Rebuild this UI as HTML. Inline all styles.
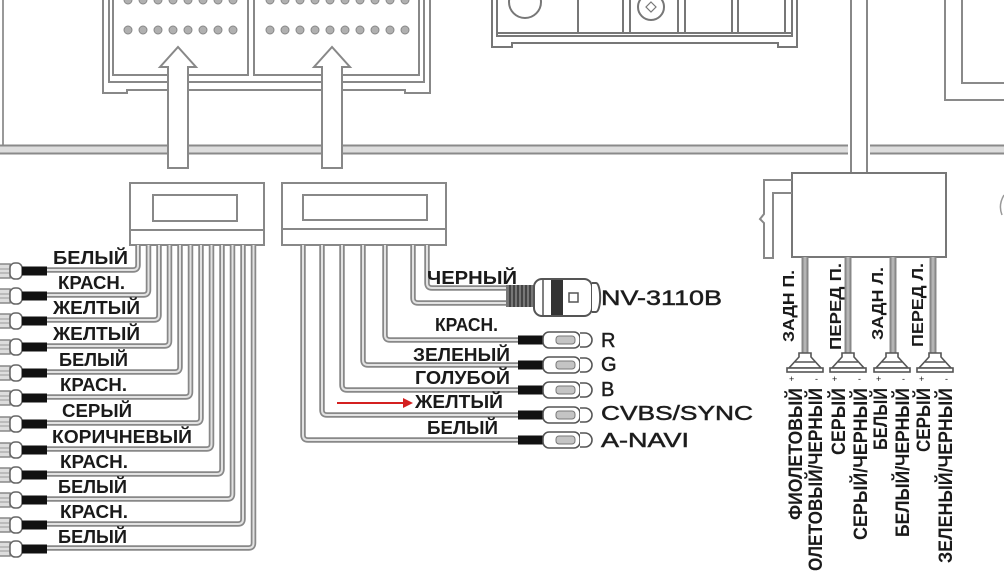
<!DOCTYPE html>
<html><head><meta charset="utf-8"><style>
html,body{margin:0;padding:0;background:#fff;width:1004px;height:573px;overflow:hidden;}
svg{display:block;overflow:hidden;}
text{font-family:"Liberation Sans","DejaVu Sans",sans-serif;fill:#1a1a1a;}
.b text{font-weight:bold;}
</style></head><body>
<svg width="1004" height="573" viewBox="0 0 1004 573" xmlns="http://www.w3.org/2000/svg">
<defs>
<clipPath id="cp"><rect x="0" y="0" width="1004" height="573"/></clipPath>
<g id="lw" fill="none">
<path d="M47,270 H133 Q138,270 138,265 V245"/>
<path d="M47,295 H143.5 Q148.5,295 148.5,290 V245"/>
<path d="M47,320 H154 Q159,320 159,315 V245"/>
<path d="M47,346 H164.5 Q169.5,346 169.5,341 V245"/>
<path d="M47,372 H175 Q180,372 180,367 V245"/>
<path d="M47,397 H185.5 Q190.5,397 190.5,392 V245"/>
<path d="M47,423 H196 Q201,423 201,418 V245"/>
<path d="M47,449 H206.5 Q211.5,449 211.5,444 V245"/>
<path d="M47,474 H217 Q222,474 222,469 V245"/>
<path d="M47,499 H227.5 Q232.5,499 232.5,494 V245"/>
<path d="M47,524 H238 Q243,524 243,519 V245"/>
<path d="M47,548 H248.5 Q253.5,548 253.5,543 V245"/>
<path d="M518,440 H308 Q303,440 303,435 V245"/>
<path d="M518,415 H327 Q322,415 322,410 V245"/>
<path d="M518,390 H347 Q342,390 342,385 V245"/>
<path d="M518,365 H368 Q363,365 363,360 V245"/>
<path d="M518,340 H390 Q385,340 385,335 V245"/>
<path d="M507,303 H418 Q413,303 413,298 V245"/>
<path d="M507,288 H432 Q427,288 427,283 V245"/>
</g>
<g id="sw" fill="none">
<path d="M805,257 V353"/><path d="M848,257 V353"/><path d="M893,257 V353"/><path d="M933,257 V353"/>
</g>
<g id="lt">
<rect x="-4" y="-7" width="14" height="14" fill="#ddd" stroke="#888" stroke-width="1.5"/>
<line x1="-4" y1="-2" x2="10" y2="-2" stroke="#999" stroke-width="1"/>
<line x1="-4" y1="2" x2="10" y2="2" stroke="#999" stroke-width="1"/>
<rect x="10" y="-8" width="12" height="16" rx="5" fill="#fff" stroke="#666" stroke-width="1.5"/>
<rect x="22" y="-4.5" width="25" height="9" fill="#111"/>
</g>
<g id="rca">
<rect x="0" y="-4.5" width="25" height="9" fill="#111"/>
<rect x="25" y="-8" width="37" height="16" rx="6" fill="#fff" stroke="#555" stroke-width="1.6"/>
<rect x="38" y="-4" width="19" height="8" rx="3" fill="#c4c4c4" stroke="#777" stroke-width="1"/>
<path d="M62,-7 H67 A7,7 0 0 1 67,7 H62" fill="#fff" stroke="#555" stroke-width="1.6"/>
</g>
<g id="spk" fill="#fff" stroke="#555" stroke-width="1.6">
<path d="M-6,353 H6 V357 L16,368 H-16 L-6,357 Z"/>
<line x1="-10" y1="362" x2="10" y2="362"/>
<rect x="-18" y="368" width="36" height="4"/>
</g>
</defs>
<g clip-path="url(#cp)">
<!-- frame lines -->
<line x1="3" y1="0" x2="3" y2="152" stroke="#999" stroke-width="2"/>
<rect x="0" y="145" width="848" height="9" fill="#ddd"/>
<rect x="870" y="145" width="134" height="9" fill="#ddd"/>
<path d="M0,145.5 H848 M0,153.5 H848 M870,145.5 H1004 M870,153.5 H1004" stroke="#8a8a8a" stroke-width="2" fill="none"/>
<path d="M945,0 V100 H1004 M962,0 V83 H1004" stroke="#8a8a8a" stroke-width="2" fill="none"/>

<!-- top housing -->
<g fill="none" stroke="#888" stroke-width="2">
<path d="M103,0 V93 H127 V90 H405 V93 H430 V0"/>
<path d="M109,0 V82 H424 V0"/>
<rect x="113" y="-5" width="135" height="80"/>
<rect x="254" y="-5" width="165" height="80"/>
</g>
<g fill="#b0b0b0" stroke="#888" stroke-width="1">
<circle cx="128" cy="30" r="4"/><circle cx="143" cy="30" r="4"/><circle cx="158" cy="30" r="4"/><circle cx="173" cy="30" r="4"/><circle cx="188" cy="30" r="4"/><circle cx="203" cy="30" r="4"/><circle cx="218" cy="30" r="4"/><circle cx="233" cy="30" r="4"/>
<circle cx="128" cy="0" r="4"/><circle cx="143" cy="0" r="4"/><circle cx="158" cy="0" r="4"/><circle cx="173" cy="0" r="4"/><circle cx="188" cy="0" r="4"/><circle cx="203" cy="0" r="4"/><circle cx="218" cy="0" r="4"/><circle cx="233" cy="0" r="4"/>
<circle cx="270" cy="30" r="4"/><circle cx="285" cy="30" r="4"/><circle cx="300" cy="30" r="4"/><circle cx="315" cy="30" r="4"/><circle cx="330" cy="30" r="4"/><circle cx="345" cy="30" r="4"/><circle cx="360" cy="30" r="4"/><circle cx="375" cy="30" r="4"/><circle cx="390" cy="30" r="4"/><circle cx="405" cy="30" r="4"/>
<circle cx="270" cy="0" r="4"/><circle cx="285" cy="0" r="4"/><circle cx="300" cy="0" r="4"/><circle cx="315" cy="0" r="4"/><circle cx="330" cy="0" r="4"/><circle cx="345" cy="0" r="4"/><circle cx="360" cy="0" r="4"/><circle cx="375" cy="0" r="4"/><circle cx="390" cy="0" r="4"/><circle cx="405" cy="0" r="4"/>
</g>
<!-- arrows -->
<g fill="#fff" stroke="#888" stroke-width="2">
<path d="M168,168 V67 H160 L178,47 L196,67 H188 V168 Z"/>
<path d="M322,168 V67 H314 L332,47 L350,67 H342 V168 Z"/>
</g>

<!-- top middle device -->
<g fill="none" stroke="#777" stroke-width="2">
<path d="M492,0 V47 H512 V43 H778 V47 H797 V0"/>
<path d="M497,0 V36 H792 V0"/>
<line x1="497" y1="33" x2="792" y2="33"/>
<path d="M578,0 V33 M623,0 V33 M630,0 V33 M678,0 V33 M685,0 V33 M732,0 V33 M738,0 V33 M785,0 V33"/>
<circle cx="525" cy="2" r="16"/>
<circle cx="651" cy="7" r="13"/>
<path d="M651,2 L656,7 L651,12 L646,7 Z" stroke-width="1.2"/>
</g>

<!-- vertical cable -->
<rect x="851" y="0" width="16" height="174" fill="#fff"/>
<path d="M851,0 V174 M867,0 V174" stroke="#888" stroke-width="2"/>

<!-- right box -->
<rect x="792" y="173" width="154" height="84" fill="#fff" stroke="#777" stroke-width="2"/>
<path d="M792,180 H764 V214 L760,219 L764,223 V258 H773 V193 H792" fill="none" stroke="#888" stroke-width="2"/>
<path d="M1004,195 Q998,205 1002,215" fill="none" stroke="#999" stroke-width="1.5"/>

<!-- lower connector boxes -->
<g fill="#fff" stroke="#888" stroke-width="2">
<rect x="130" y="183" width="134" height="62"/>
<rect x="153" y="195" width="84" height="26"/>
<rect x="282" y="183" width="164" height="62"/>
<rect x="303" y="195" width="124" height="25"/>
</g>
<path d="M130,230 H264 M282,229 H446" stroke="#888" stroke-width="2"/>

<!-- wires -->
<use href="#lw" stroke="#888" stroke-width="5.5"/>
<use href="#lw" stroke="#e2e2e2" stroke-width="2"/>
<use href="#sw" stroke="#888" stroke-width="7"/>
<use href="#sw" stroke="#b5b5b5" stroke-width="3"/>

<!-- left terminals -->
<use href="#lt" x="0" y="271"/>
<use href="#lt" x="0" y="296"/>
<use href="#lt" x="0" y="321"/>
<use href="#lt" x="0" y="347"/>
<use href="#lt" x="0" y="373"/>
<use href="#lt" x="0" y="398"/>
<use href="#lt" x="0" y="424"/>
<use href="#lt" x="0" y="450"/>
<use href="#lt" x="0" y="475"/>
<use href="#lt" x="0" y="500"/>
<use href="#lt" x="0" y="525"/>
<use href="#lt" x="0" y="549"/>

<!-- RCA plugs -->
<use href="#rca" x="518" y="340"/>
<use href="#rca" x="518" y="365"/>
<use href="#rca" x="518" y="390"/>
<use href="#rca" x="518" y="415"/>
<use href="#rca" x="518" y="440"/>

<!-- NV connector -->
<rect x="506" y="285" width="30" height="22" fill="#777"/>
<path d="M510,285 V307 M514,285 V307 M518,285 V307 M522,285 V307 M526,285 V307 M530,285 V307" stroke="#333" stroke-width="1.5"/>
<rect x="534" y="279" width="58" height="37" rx="8" fill="#fff" stroke="#555" stroke-width="2"/>
<line x1="543" y1="280" x2="543" y2="315" stroke="#555" stroke-width="1.5"/>
<rect x="551" y="280" width="12" height="35" fill="#333"/>
<rect x="569" y="293" width="9" height="9" fill="#fff" stroke="#555" stroke-width="1.5"/>
<path d="M592,283 H596 A4,14 0 0 1 596,312 H592" fill="#fff" stroke="#555" stroke-width="2"/>

<!-- speakers -->
<use href="#spk" x="805" y="0"/>
<use href="#spk" x="848" y="0"/>
<use href="#spk" x="892" y="0"/>
<use href="#spk" x="935" y="0"/>
<g font-size="9" style="fill:#555">
<text x="789" y="382">+</text><text x="815" y="382">-</text>
<text x="832" y="382">+</text><text x="858" y="382">-</text>
<text x="876" y="382">+</text><text x="902" y="382">-</text>
<text x="919" y="382">+</text><text x="945" y="382">-</text>
</g>

<!-- red arrow -->
<line x1="337" y1="403" x2="406" y2="403" stroke="#d42020" stroke-width="2"/>
<path d="M403,398 L413,403 L403,408 Z" fill="#d42020"/>

<!-- left labels -->
<g class="b" font-size="18">
<text x="53" y="264" textLength="75" lengthAdjust="spacingAndGlyphs">БЕЛЫЙ</text>
<text x="58" y="289" textLength="67" lengthAdjust="spacingAndGlyphs">КРАСН.</text>
<text x="53" y="314" textLength="87" lengthAdjust="spacingAndGlyphs">ЖЕЛТЫЙ</text>
<text x="53" y="340" textLength="87" lengthAdjust="spacingAndGlyphs">ЖЕЛТЫЙ</text>
<text x="59" y="366" textLength="69" lengthAdjust="spacingAndGlyphs">БЕЛЫЙ</text>
<text x="60" y="391" textLength="67" lengthAdjust="spacingAndGlyphs">КРАСН.</text>
<text x="62" y="417" textLength="70" lengthAdjust="spacingAndGlyphs">СЕРЫЙ</text>
<text x="52" y="443" textLength="140" lengthAdjust="spacingAndGlyphs">КОРИЧНЕВЫЙ</text>
<text x="60" y="468" textLength="68" lengthAdjust="spacingAndGlyphs">КРАСН.</text>
<text x="58" y="493" textLength="69" lengthAdjust="spacingAndGlyphs">БЕЛЫЙ</text>
<text x="60" y="518" textLength="68" lengthAdjust="spacingAndGlyphs">КРАСН.</text>
<text x="58" y="543" textLength="69" lengthAdjust="spacingAndGlyphs">БЕЛЫЙ</text>
</g>

<!-- middle labels -->
<g class="b" font-size="18">
<text x="427" y="284" textLength="90" lengthAdjust="spacingAndGlyphs">ЧЕРНЫЙ</text>
<text x="435" y="331" textLength="63" lengthAdjust="spacingAndGlyphs">КРАСН.</text>
<text x="413" y="361" textLength="97" lengthAdjust="spacingAndGlyphs">ЗЕЛЕНЫЙ</text>
<text x="415" y="384" textLength="95" lengthAdjust="spacingAndGlyphs">ГОЛУБОЙ</text>
<text x="415" y="408" textLength="88" lengthAdjust="spacingAndGlyphs">ЖЕЛТЫЙ</text>
<text x="427" y="434" textLength="71" lengthAdjust="spacingAndGlyphs">БЕЛЫЙ</text>
</g>

<!-- right signal labels -->
<g font-size="20" style="fill:#2a2a2a;stroke:#2a2a2a;stroke-width:0.5">
<text x="601" y="305" font-size="21" textLength="121" lengthAdjust="spacingAndGlyphs">NV-3110B</text>
<text x="601" y="347">R</text>
<text x="601" y="371">G</text>
<text x="601" y="396">B</text>
<text x="601" y="420" textLength="152" lengthAdjust="spacingAndGlyphs">CVBS/SYNC</text>
<text x="601" y="447" textLength="88" lengthAdjust="spacingAndGlyphs">A-NAVI</text>
</g>

<!-- speaker labels -->
<g class="b" font-size="16">
<text transform="translate(794,342) rotate(-90)" textLength="72" lengthAdjust="spacingAndGlyphs">ЗАДН П.</text>
<text transform="translate(841,350) rotate(-90)" textLength="87" lengthAdjust="spacingAndGlyphs">ПЕРЕД П.</text>
<text transform="translate(883,340) rotate(-90)" textLength="73" lengthAdjust="spacingAndGlyphs">ЗАДН Л.</text>
<text transform="translate(923,347) rotate(-90)" textLength="84" lengthAdjust="spacingAndGlyphs">ПЕРЕД Л.</text>
</g>

<!-- bottom vertical labels -->
<g class="b" font-size="19">
<text transform="translate(802,520) rotate(-90)" textLength="132" lengthAdjust="spacingAndGlyphs">ФИОЛЕТОВЫЙ</text>
<text transform="translate(822,571) rotate(-90)" textLength="183" lengthAdjust="spacingAndGlyphs">ОЛЕТОВЫЙ/ЧЕРНЫЙ</text>
<text transform="translate(845,455) rotate(-90)" textLength="67" lengthAdjust="spacingAndGlyphs">СЕРЫЙ</text>
<text transform="translate(867,540) rotate(-90)" textLength="152" lengthAdjust="spacingAndGlyphs">СЕРЫЙ/ЧЕРНЫЙ</text>
<text transform="translate(887,450) rotate(-90)" textLength="62" lengthAdjust="spacingAndGlyphs">БЕЛЫЙ</text>
<text transform="translate(909,537) rotate(-90)" textLength="149" lengthAdjust="spacingAndGlyphs">БЕЛЫЙ/ЧЕРНЫЙ</text>
<text transform="translate(930,452) rotate(-90)" textLength="64" lengthAdjust="spacingAndGlyphs">СЕРЫЙ</text>
<text transform="translate(952,563) rotate(-90)" textLength="175" lengthAdjust="spacingAndGlyphs">ЗЕЛЕНЫЙ/ЧЕРНЫЙ</text>
</g>
</g>
</svg>
</body></html>
